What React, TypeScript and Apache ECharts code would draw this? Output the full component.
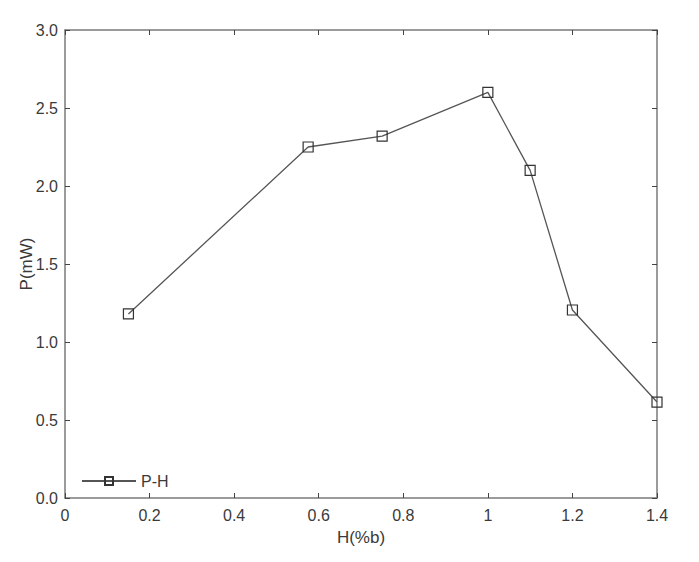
import React, { useEffect, useRef } from "react";
import * as echarts from "echarts";

const hValues = [0.15, 0.575, 0.75, 1.0, 1.1, 1.2, 1.4];
const pValues = [1.18, 2.25, 2.32, 2.6, 2.1, 1.205, 0.615];
const seriesName = "P-H";

export default function App() {
  const ref = useRef<HTMLDivElement>(null);
  useEffect(() => {
    const chart = echarts.init(ref.current!, null, { renderer: "svg" });
    const axisColor = "#7a7a7a";
    const tickColor = "#444";
    const textColor = "#3a3a3a";
    const font = "Liberation Sans, Arial, sans-serif";
    const tick = { show: true, inside: true, length: 5, lineStyle: { color: tickColor, width: 1 } };
    const line = { show: true, onZero: false, lineStyle: { color: axisColor, width: 1.5 } };
    const xTickAxis = (position: string) => ({
      type: "value",
      position,
      min: 0,
      max: 1.4,
      interval: 0.2,
      axisLine: line,
      axisTick: tick,
      axisLabel: { show: false },
      splitLine: { show: false },
    });
    const yTickAxis = (position: string) => ({
      type: "value",
      position,
      min: 0,
      max: 3,
      interval: 0.5,
      axisLine: line,
      axisTick: tick,
      axisLabel: { show: false },
      splitLine: { show: false },
    });
    chart.setOption({
      animation: false,
      backgroundColor: "#fff",
      grid: { left: 65, top: 30, right: 42, bottom: 64, containLabel: false },
      legend: {
        left: 76,
        top: 468,
        itemWidth: 54,
        itemHeight: 10,
        itemGap: 5,
        textStyle: { color: textColor, fontSize: 16, fontFamily: font },
        data: [{ name: seriesName }],
      },
      xAxis: [
        {
          type: "value",
          position: "bottom",
          min: 0,
          max: 1.4,
          interval: 0.2,
          name: "H(%b)",
          nameLocation: "middle",
          nameGap: 31,
          nameTextStyle: { color: textColor, fontSize: 17, fontFamily: font },
          axisLine: line,
          axisTick: tick,
          axisLabel: { color: textColor, fontSize: 16, fontFamily: font, margin: 9 },
          splitLine: { show: false },
        },
        xTickAxis("top"),
      ],
      yAxis: [
        {
          type: "value",
          position: "left",
          min: 0,
          max: 3,
          interval: 0.5,
          name: "P(mW)",
          nameLocation: "middle",
          nameGap: 30,
          nameMoveOverlap: false,
          nameTextStyle: { color: textColor, fontSize: 17, fontFamily: font },
          axisLine: line,
          axisTick: tick,
          axisLabel: {
            color: textColor,
            fontSize: 16,
            fontFamily: font,
            margin: 7,
            formatter: (v: number) => v.toFixed(1),
          },
          splitLine: { show: false },
        },
        yTickAxis("right"),
      ],
      series: [
        {
          name: seriesName,
          type: "line",
          xAxisIndex: 0,
          yAxisIndex: 0,
          data: hValues.map((h, i) => [h, pValues[i]]),
          symbol: "rect",
          symbolSize: 10,
          showAllSymbol: true,
          lineStyle: { color: "#555", width: 1.3 },
          itemStyle: { color: "transparent", borderColor: "#333", borderWidth: 1.2 },
          clip: false,
        },
        { name: "frame", type: "line", xAxisIndex: 1, yAxisIndex: 1, data: [], silent: true },
      ],
    });
    return () => chart.dispose();
  }, []);
  return <div ref={ref} style={{ width: 699, height: 562, position: "absolute", left: 0, top: 0 }} />;
}
